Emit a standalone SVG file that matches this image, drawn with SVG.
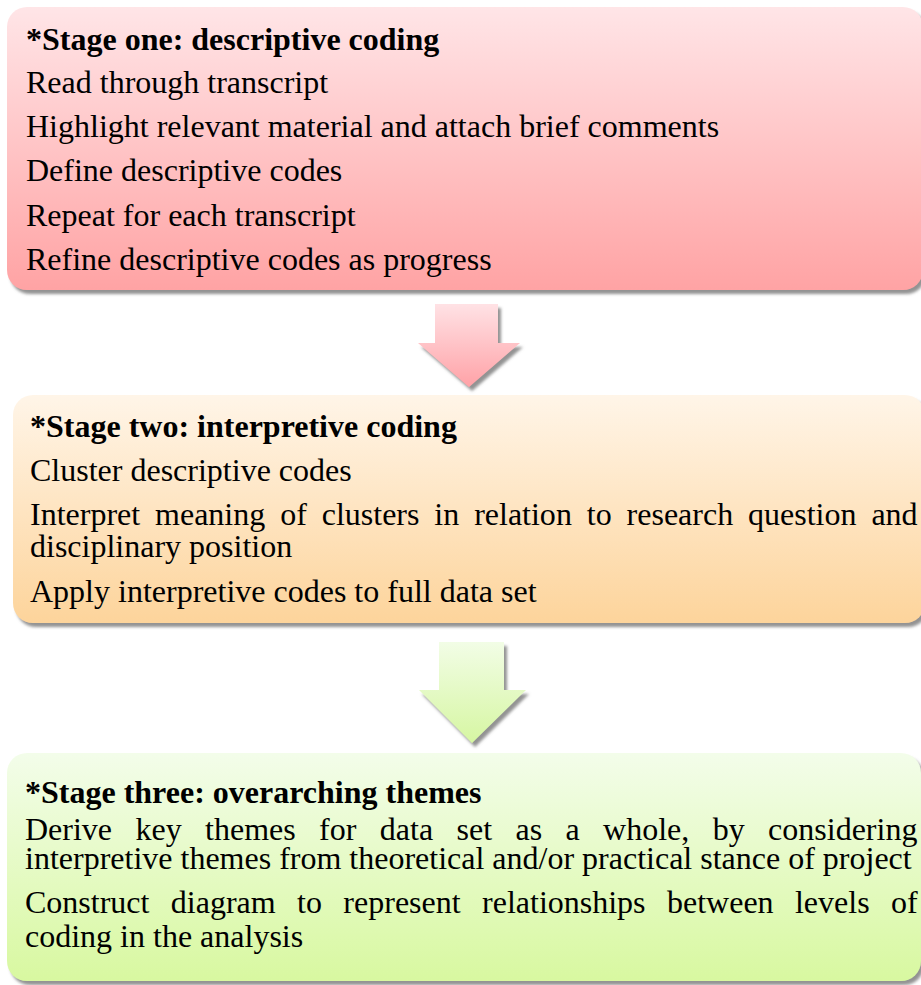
<svg xmlns="http://www.w3.org/2000/svg" width="921" height="985" viewBox="0 0 921 985">
<style>
  text { font-family: "Liberation Serif", "Times New Roman", serif; font-size: 32px; fill: #000; }
  .title { font-weight: bold; }
</style>
<defs>
  <linearGradient id="g1" x1="0" y1="0" x2="0" y2="1">
    <stop offset="0" stop-color="#FFE5E7"/>
    <stop offset="1" stop-color="#FFA3A4"/>
  </linearGradient>
  <linearGradient id="g2" x1="0" y1="0" x2="0" y2="1">
    <stop offset="0" stop-color="#FFF5E8"/>
    <stop offset="1" stop-color="#FDD49B"/>
  </linearGradient>
  <linearGradient id="g3" x1="0" y1="0" x2="0" y2="1">
    <stop offset="0" stop-color="#F3FDEA"/>
    <stop offset="1" stop-color="#D8F8A0"/>
  </linearGradient>
  <linearGradient id="ga1" x1="0" y1="0" x2="0" y2="1">
    <stop offset="0" stop-color="#FFE2E5"/>
    <stop offset="1" stop-color="#FFA2A7"/>
  </linearGradient>
  <linearGradient id="ga2" x1="0" y1="0" x2="0" y2="1">
    <stop offset="0" stop-color="#F2FDE6"/>
    <stop offset="1" stop-color="#D6F6A2"/>
  </linearGradient>
  <filter id="sh" x="-5%" y="-5%" width="115%" height="120%">
    <feDropShadow dx="3" dy="4" stdDeviation="1.5" flood-color="#777" flood-opacity="0.8"/>
  </filter>
</defs>

<g id="connectors">
  <polygon points="435,304 498,304 498,343 520,343 469,387 418,343 435,343" fill="url(#ga1)" filter="url(#sh)"/>
  <polygon points="439,642 504,642 504,690 526,690 472,743 419,690 439,690" fill="url(#ga2)" filter="url(#sh)"/>
</g>

<g id="stage1">
  <rect x="7" y="7" width="916" height="283" rx="20" ry="20" fill="url(#g1)" filter="url(#sh)"/>
  <text class="title" x="26" y="50">*Stage one: descriptive coding</text>
  <text x="26" y="93">Read through transcript</text>
  <text x="26" y="137">Highlight relevant material and attach brief comments</text>
  <text x="26" y="181">Define descriptive codes</text>
  <text x="26" y="226">Repeat for each transcript</text>
  <text x="26" y="270">Refine descriptive codes as progress</text>
</g>

<g id="stage2">
  <rect x="13" y="395" width="912" height="228" rx="20" ry="20" fill="url(#g2)" filter="url(#sh)"/>
  <text class="title" x="30" y="437">*Stage two: interpretive coding</text>
  <text x="30" y="481">Cluster descriptive codes</text>
  <text x="30" y="525" style="word-spacing:6.9px">Interpret meaning of clusters in relation to research question and</text>
  <text x="30" y="557">disciplinary position</text>
  <text x="30" y="602">Apply interpretive codes to full data set</text>
</g>

<g id="stage3">
  <rect x="7" y="753" width="914" height="228" rx="20" ry="20" fill="url(#g3)" filter="url(#sh)"/>
  <text class="title" x="25" y="803">*Stage three: overarching themes</text>
  <text x="25" y="840" style="word-spacing:15.4px">Derive key themes for data set as a whole, by considering</text>
  <text x="25" y="869">interpretive themes from theoretical and/or practical stance of project</text>
  <text x="25" y="913" style="word-spacing:13.4px">Construct diagram to represent relationships between levels of</text>
  <text x="25" y="947">coding in the analysis</text>
</g>
</svg>
